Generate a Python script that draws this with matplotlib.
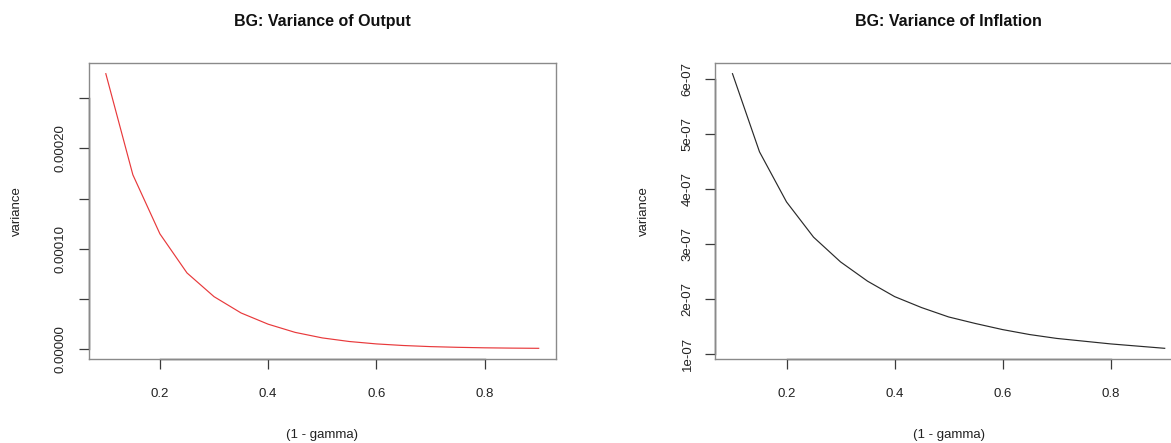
import matplotlib
matplotlib.use("Agg")
import matplotlib.pyplot as plt

plt.rcParams["font.family"] = ["Liberation Sans", "DejaVu Sans"]

# (1 - gamma) grid
one_minus_gamma = [0.10, 0.15, 0.20, 0.25, 0.30, 0.35, 0.40, 0.45, 0.50,
                   0.55, 0.60, 0.65, 0.70, 0.75, 0.80, 0.85, 0.90]

# variance of output
var_output = [2.747e-4, 1.737e-4, 1.147e-4, 7.57e-5, 5.20e-5, 3.57e-5, 2.45e-5,
              1.63e-5, 1.08e-5, 7.2e-6, 4.8e-6, 3.2e-6, 2.1e-6, 1.4e-6,
              0.9e-6, 0.6e-6, 0.4e-6]

# variance of inflation
var_inflation = [6.09e-7, 4.67e-7, 3.76e-7, 3.12e-7, 2.67e-7, 2.32e-7, 2.04e-7,
                 1.84e-7, 1.67e-7, 1.55e-7, 1.44e-7, 1.35e-7, 1.28e-7, 1.23e-7,
                 1.18e-7, 1.14e-7, 1.10e-7]

x_ticks = [0.2, 0.4, 0.6, 0.8]
x_tick_labels = ["0.2", "0.4", "0.6", "0.8"]

out_y_ticks = [0.0, 0.00005, 0.00010, 0.00015, 0.00020, 0.00025]
out_y_labels = ["0.00000", "", "0.00010", "", "0.00020", ""]

inf_y_ticks = [1e-7, 2e-7, 3e-7, 4e-7, 5e-7, 6e-7]
inf_y_labels = ["1e-07", "2e-07", "3e-07", "4e-07", "5e-07", "6e-07"]

W, H = 1171, 443
fig = plt.figure(figsize=(W / 100, H / 100), dpi=100)

box_color = "#8a8a8a"
axis_color = "#3a3a3a"


def r_range(vals):
    lo, hi = min(vals), max(vals)
    pad = (hi - lo) * 0.04
    return lo - pad, hi + pad


def r_panel(rect, x, y, color, title, yticks, ylabels):
    ax = fig.add_axes(rect)
    ax.plot(x, y, color=color, lw=0.85)
    ax.set_xlim(*r_range(x))
    ax.set_ylim(*r_range(y))

    for s in ax.spines.values():
        s.set_color(box_color)
        s.set_linewidth(1.0)

    ax.set_xticks(x_ticks)
    ax.set_xticklabels(x_tick_labels)
    ax.set_yticks(yticks)
    ax.set_yticklabels(ylabels, rotation=90, va="center")
    ax.tick_params(length=7.5, width=0.9, color=axis_color, labelsize=9.5,
                   labelcolor="#222222")
    ax.tick_params(axis="x", pad=13)
    ax.tick_params(axis="y", pad=8)

    # R-style axis lines running from first to last tick
    ax.plot([x_ticks[0], x_ticks[-1]], [0, 0], color=axis_color, lw=1.0,
            transform=ax.get_xaxis_transform(), clip_on=False)
    ax.plot([0, 0], [yticks[0], yticks[-1]], color=axis_color, lw=1.0,
            transform=ax.get_yaxis_transform(), clip_on=False)

    ax.set_xlabel("(1 - gamma)", fontsize=9.5, color="#222222", va="center")
    ax.xaxis.set_label_coords(0.5, -0.255)
    ax.set_ylabel("variance", fontsize=9.5, color="#222222", va="center")
    ax.yaxis.set_label_coords(-0.152, 0.5)
    ax.set_title(title, fontsize=11.5, fontweight="bold", y=1.14, pad=0,
                 va="center", color="#111111")
    return ax


r_panel([88.5 / W, 83.7 / H, 467.5 / W, 296.6 / H], one_minus_gamma,
        var_output, "#e8393b", "BG: Variance of Output", out_y_ticks,
        out_y_labels)
r_panel([715.2 / W, 83.7 / H, 466.8 / W, 296.6 / H], one_minus_gamma,
        var_inflation, "#2a2a2a", "BG: Variance of Inflation", inf_y_ticks,
        inf_y_labels)

plt.savefig("out.png", dpi=100)
plt.close()
